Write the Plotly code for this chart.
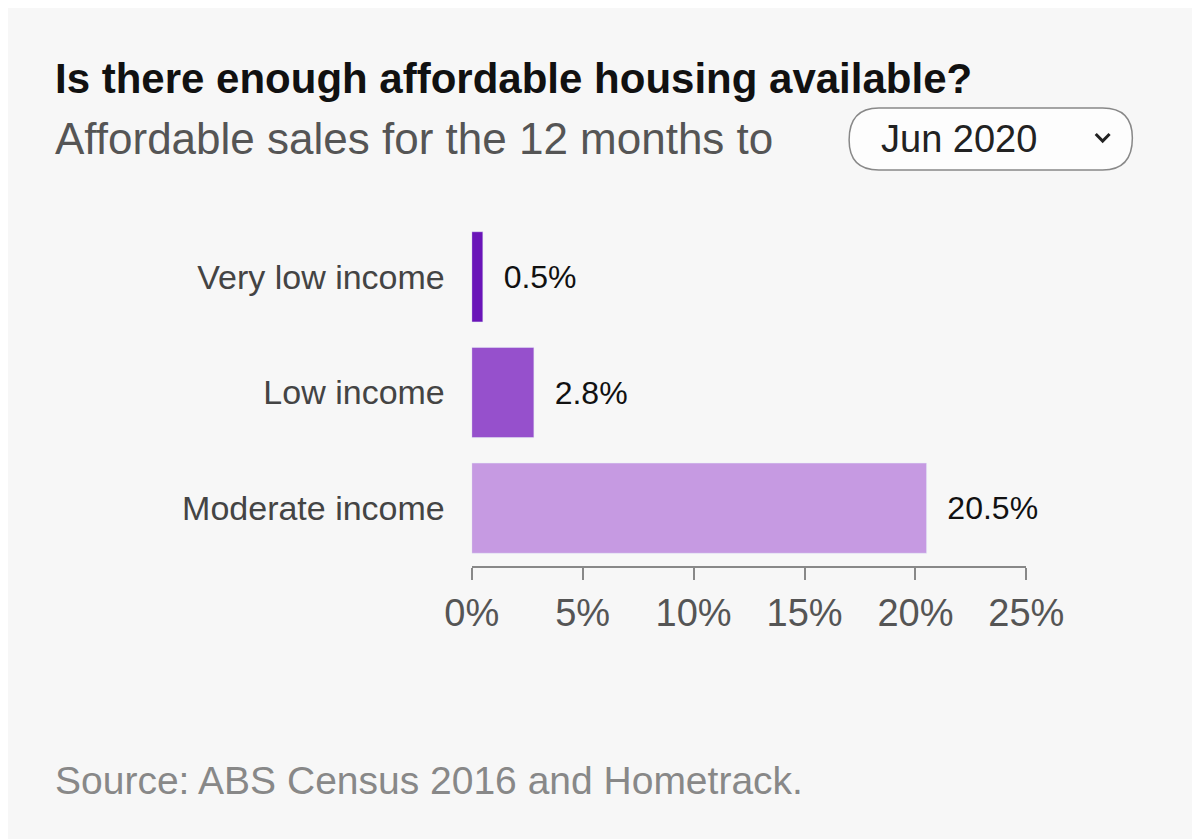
import plotly.graph_objects as go

categories = ["Very low income", "Low income", "Moderate income"]
values = [0.5, 2.8, 20.5]
colors = ["#6a14b8", "#9650cc", "#c69ae2"]
tickvals = [0, 5, 10, 15, 20, 25]
ticktext = ["0%", "5%", "10%", "15%", "20%", "25%"]

F = "Liberation Sans, Arial, sans-serif"
def X(t): return ((t - 30) / 0.955) / 1200
def Y(t): return 1 - (t - 8) / 839

fig = go.Figure(go.Bar(
    x=values, y=categories, orientation="h", marker_color=colors, width=0.78,
    text=[f"\u00a0\u00a0{v}%" for v in values], textposition="outside",
    textfont=dict(size=32, color="#111", family=F), cliponaxis=False))

fig.update_layout(
    width=1200, height=839, margin=dict(l=0, r=0, t=0, b=0),
    paper_bgcolor="#f7f7f7", plot_bgcolor="#f7f7f7", showlegend=False,
    font=dict(family=F),
    xaxis=dict(domain=[X(471), X(1031)], range=[0, 25], tickvals=tickvals, ticktext=ticktext,
               showgrid=False, zeroline=False, showline=True, linecolor="#888", linewidth=2,
               ticks="outside", ticklen=12, tickcolor="#888", tickwidth=2,
               tickfont=dict(size=38, color="#555")),
    yaxis=dict(domain=[Y(566), Y(219)], autorange="reversed", showgrid=False, zeroline=False,
               ticks="", ticklabelstandoff=26, tickfont=dict(size=34, color="#444")),
)
def ann(x, y, text, size, color):
    fig.add_annotation(x=X(x), y=Y(y), xref="paper", yref="paper", xanchor="left", yanchor="middle",
                       text=text, showarrow=False, font=dict(size=size, color=color))
ann(48, 78, "<b>Is there enough affordable housing available?</b>", 42, "#111")
ann(48, 138, "Affordable sales for the 12 months to", 44, "#555")
ann(48, 780, "Source: ABS Census 2016 and Hometrack.", 39, "#888")

x0, x1, y0, y1, r = 852, 1138, 108, 170, 30
pts = (X(x0+r), Y(y0), X(x1-r), Y(y0), X(x1), Y(y0), X(x1), Y(y0+r),
       X(x1), Y(y1), X(x1-r), Y(y1), X(x0+r), Y(y1),
       X(x0), Y(y1), X(x0), Y(y1-r), X(x0), Y(y0), X(x0+r), Y(y0))
fig.add_shape(type="path", xref="paper", yref="paper", line=dict(color="#888", width=1.5),
              fillcolor="#fdfdfd",
              path="M %f %f L %f %f Q %f %f %f %f Q %f %f %f %f L %f %f Q %f %f %f %f Q %f %f %f %f Z" % pts,
              layer="below")
ann(882, 139, "Jun 2020", 38, "#222")
fig.add_shape(type="path", xref="paper", yref="paper", line=dict(color="#222", width=3),
              path="M %f %f L %f %f L %f %f" % (X(1101), Y(134), X(1108), Y(141), X(1115), Y(134)))
fig.write_html("out.html")
